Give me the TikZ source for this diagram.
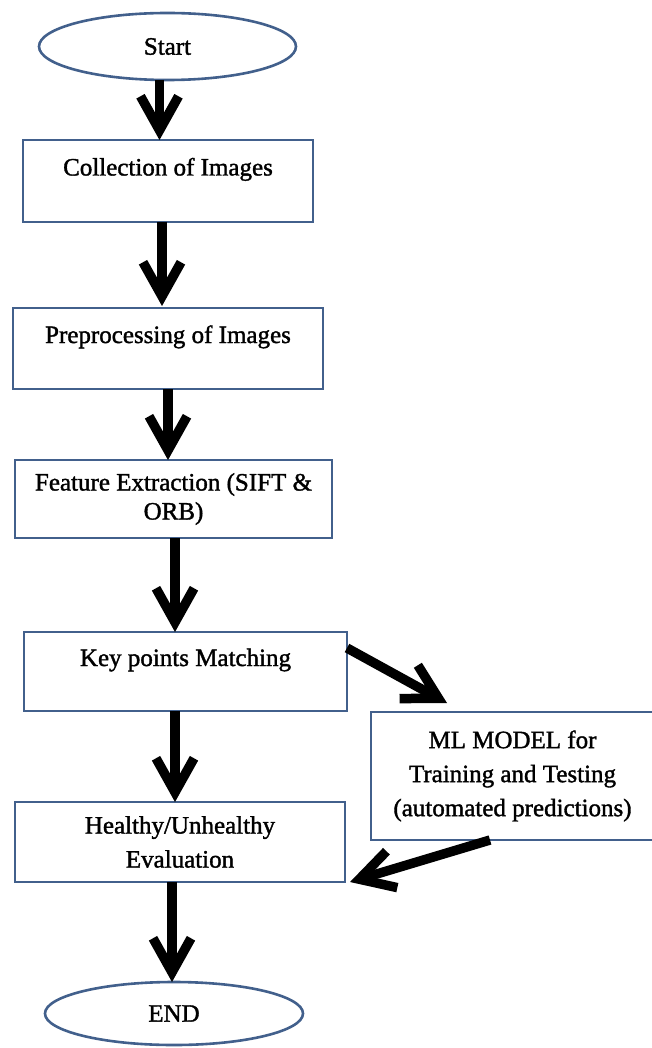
\documentclass[tikz,border=0pt]{standalone}
\usepackage{fontspec}
\setmainfont{Liberation Serif}[UprightFeatures={FakeBold=1.4}]
\usetikzlibrary{shapes.geometric,arrows.meta}
\definecolor{boxblue}{RGB}{66,96,140}
\begin{document}
\begin{tikzpicture}[x=1pt,y=-1pt,
  base/.style={draw=boxblue,line width=2.6pt,font=\fontsize{25}{34}\selectfont,inner sep=0pt,outer sep=0pt},
  term/.style={base,ellipse},
  stepbox/.style={base,rectangle},
  upper/.style={text height=18pt,text depth=29pt},
  arr/.style={draw=black,line width=9.5pt,-{Straight Barb[length=34pt,width=38pt]}}]
\useasboundingbox (0,0) rectangle (652,1048);
\fill[white] (0,0) rectangle (652,1048);
\node[term,minimum width=257pt,minimum height=67pt] (start) at (167.5,46.5) {Start};
\node[stepbox,upper,minimum width=290pt,minimum height=82pt] (coll) at (168,181) {Collection of Images};
\node[stepbox,upper,minimum width=310pt,minimum height=81pt] (pre) at (168,348.5) {Preprocessing of Images};
\node[stepbox,align=center,font=\fontsize{25}{29}\selectfont,minimum width=317pt,minimum height=78pt] (feat) at (173.5,499) {Feature Extraction (SIFT \&\\ORB)};
\node[stepbox,upper,minimum width=323pt,minimum height=79pt] (key) at (185.5,671.5) {Key points Matching};
\node[stepbox,align=center,minimum width=283pt,minimum height=128pt] (ml) at (512.5,776) {ML MODEL for\\Training and Testing\\(automated predictions)};
\node[stepbox,align=center,minimum width=330pt,minimum height=80pt] (heal) at (180,842) {Healthy/Unhealthy\\Evaluation};
\node[term,minimum width=258pt,minimum height=63pt] (end) at (174,1013.5) {END};
\draw[arr] ([xshift=-8pt]start.south) -- ([xshift=-8.5pt]coll.north);
\draw[arr] ([xshift=-6pt]coll.south) -- ([xshift=-6pt,yshift=2pt]pre.north);
\draw[arr] (pre.south) -- ([xshift=-5.5pt]feat.north);
\draw[arr] ([xshift=1.5pt]feat.south) -- ([xshift=-10.5pt]key.north);
\draw[arr] ([xshift=-10.5pt]key.south) -- ([xshift=-5pt]heal.north);
\draw[arr] ([xshift=-8pt]heal.south) -- ([xshift=-2pt]end.north);
\draw[arr] ([yshift=-16pt]key.north east) -- ([xshift=76pt,yshift=9pt]ml.north west);
\draw[arr] ([xshift=-22.5pt]ml.south) -- ([xshift=5pt]heal.south east);
\end{tikzpicture}
\end{document}
